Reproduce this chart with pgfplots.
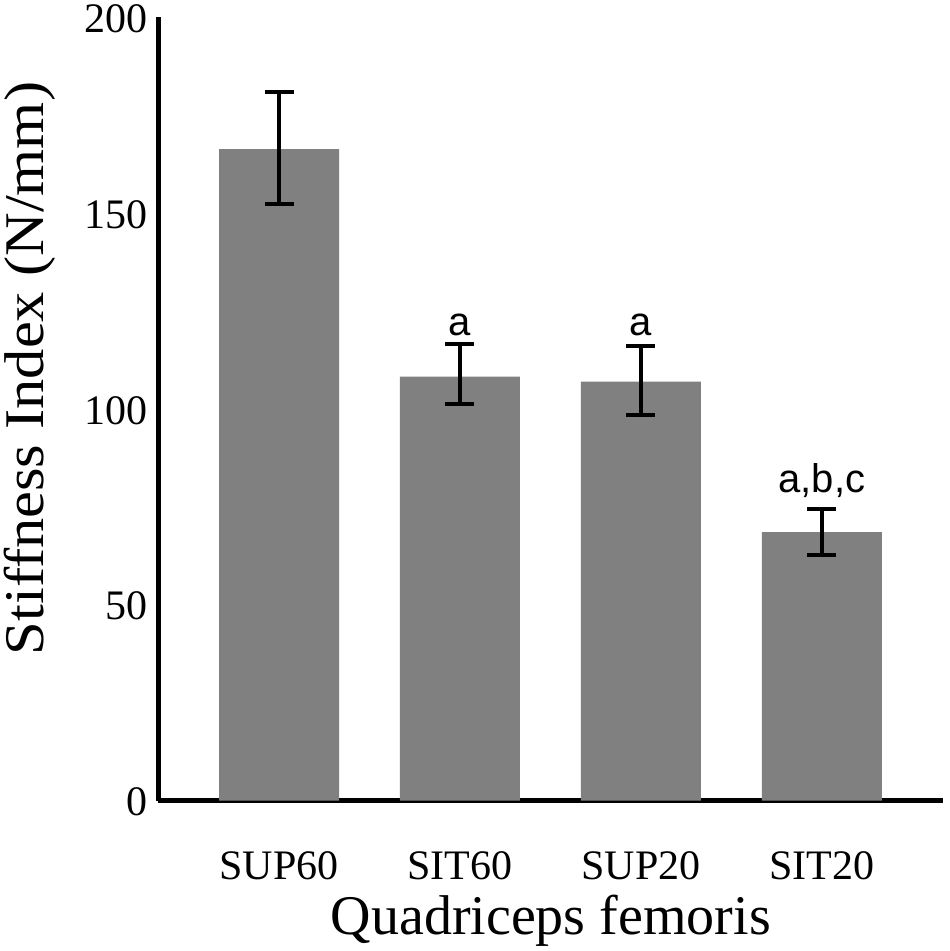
\documentclass[border=0pt]{standalone}
\usepackage{fontspec}
\setmainfont{Liberation Serif}
\newfontfamily\sansf{Liberation Sans}
\usepackage{graphicx}
\usepackage{pgfplots}
\pgfplotsset{compat=1.18}
\usepackage{pgfplotstable}
\definecolor{barg}{RGB}{128,128,128}
\pgfplotstableread{
x y ep em
0 166.3 14.5 14.0
1 108.2 8.4 7.1
2 106.9 9.1 8.5
3 68.5 5.9 5.8
}\datatable
\begin{document}
\begin{tikzpicture}
\begin{axis}[name=ax, scale only axis, width=784.5pt, height=783.5pt,
  xmin=-0.666, xmax=3.669, ymin=0, ymax=200, clip=false,
  axis x line*=bottom, axis y line*=left,
  axis line style={line width=4.5pt, black},
  ytick={0,50,100,150,200}, xtick={0,1,2,3},
  xticklabels={SUP60,SIT60,SUP20,SIT20},
  major tick length=0pt, tick style={draw=none},
  /pgf/number format/assume math mode=true,
  yticklabel style={font=\fontsize{42}{50}\selectfont, xshift=-7pt, yshift=-1.5pt},
  xticklabel style={font=\fontsize{42}{50}\selectfont, anchor=base, yshift=-78.8pt},
  xlabel={Quadriceps femoris}, ylabel={\scalebox{1.08}[1]{Stiffness Index (N/mm)}},
  xlabel style={font=\fontsize{56}{66}\selectfont, at={(axis description cs:0.5,0)}, anchor=base, yshift=-133.5pt},
  ylabel style={font=\fontsize{56}{66}\selectfont, at={(axis description cs:-0.1472,0.5514)}, anchor=base},
  ybar, bar width=120pt,
]
\addplot[fill=barg, draw=none,
  error bars/.cd, y dir=both, y explicit,
  error bar style={draw=black, line width=4pt},
  error mark options={rotate=90, mark size=14.5pt, line width=4pt, draw=black}]
  table[x=x, y=y, y error plus=ep, y error minus=em] {\datatable};
\node[anchor=base, font=\sansf\fontsize{40}{48}\selectfont] at (axis cs:1,118.8) {a};
\node[anchor=base, font=\sansf\fontsize{40}{48}\selectfont] at (axis cs:2,118.8) {a};
\node[anchor=base, font=\sansf\fontsize{40}{48}\selectfont] at (axis cs:3,78.5) {a,b,c};
\end{axis}
\pgfresetboundingbox
\path[use as bounding box] ([shift={(-158.5pt,-150.5pt)}]ax.south west) rectangle ++(950pt,951pt);
\end{tikzpicture}
\end{document}
